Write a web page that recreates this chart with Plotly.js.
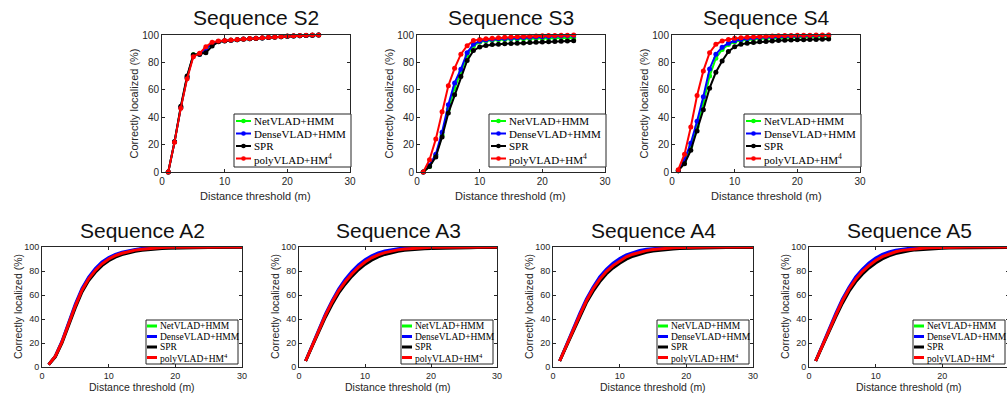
<!DOCTYPE html>
<html><head><meta charset="utf-8">
<script src="https://cdn.plot.ly/plotly-3.0.1.min.js"></script>
<style>html,body{margin:0;padding:0;overflow:hidden;background:#fff}#chart{width:1012px;height:396px}</style>
</head><body><div id="chart"></div>
<script>
// ---------------- data ----------------
const seriesNames = ['NetVLAD+HMM', 'DenseVLAD+HMM', 'SPR', 'polyVLAD+HM<sup>4</sup>'];
const seriesColors = ['#00ff00', '#0000ff', '#000000', '#ff0000'];
const panelTitles = ['Sequence S2', 'Sequence S3', 'Sequence S4', 'Sequence A2', 'Sequence A3', 'Sequence A4', 'Sequence A5'];
const xTicks = [0, 10, 20, 30];
const yTicks = [0, 20, 40, 60, 80, 100];
const xTitle = 'Distance threshold (m)';
const yTitle = 'Correctly localized (%)';

const xTop = [1,2,3,4,5,6,7,8,9,10,11,12,13,14,15,16,17,18,19,20,21,22,23,24,25];
const xBottom = [1,2,3,4,5,6,7,8,9,10,11,12,13,14,15,16,17,18,19,20,21,22,23,24,25,26,27,28,29,30];

// Sequence S2
const s2NetVLAD   = [0,22,47,69,85.5,86,90,93.5,95.3,95.8,96.2,96.6,97,97.3,97.6,97.9,98.2,98.5,98.8,99.1,99.3,99.5,99.7,99.9,100];
const s2DenseVLAD = [0,22,47,69,85,86,90,93.5,95.3,95.8,96.2,96.6,97,97.3,97.6,97.9,98.2,98.5,98.8,99.1,99.3,99.5,99.7,99.9,100];
const s2SPR       = [0,22,48,70,85.5,86,87,92,95,95.7,96.1,96.5,96.9,97.2,97.5,97.8,98.1,98.4,98.7,99,99.2,99.4,99.6,99.8,100];
const s2Poly      = [0,21.8,46.6,68,84.2,86.6,91.5,94.7,95.6,95.9,96.3,96.7,97.1,97.4,97.7,98,98.3,98.6,98.9,99.2,99.4,99.6,99.8,100,100];
// Sequence S3
const s3NetVLAD   = [0,4,12,27,46,61,73,85,92,94.8,95.8,96.3,96.6,96.8,97,97.1,97.2,97.3,97.4,97.5,97.6,97.7,97.8,97.9,98];
const s3DenseVLAD = [0,5,13,29,49,65,75,87,93.2,95.5,96.4,96.9,97.2,97.5,97.7,97.9,98.1,98.3,98.5,98.7,98.9,99.1,99.3,99.5,99.7];
const s3SPR       = [0,4,11,25.5,43,56.3,69.7,81.3,88.6,91.3,92.3,93,93.3,93.6,93.8,94,94.2,94.5,94.7,94.9,95.1,95.3,95.5,95.7,95.8];
const s3Poly      = [0,9,24,44,63,75.7,86,92.2,95.9,96.8,97.2,97.6,98,98.3,98.5,98.7,98.9,99.1,99.3,99.5,99.6,99.7,99.8,99.9,100];
// Sequence S4
const s4NetVLAD   = [1,8,19,33,50,70,83,89.5,93,95,96,96.6,97,97.3,97.5,97.7,97.9,98.1,98.3,98.5,98.6,98.7,98.8,98.9,99];
const s4DenseVLAD = [1,9,21,37,55,75.2,86,91,94,95.8,96.8,97.4,97.8,98.1,98.4,98.6,98.8,99,99.2,99.3,99.4,99.5,99.6,99.7,99.8];
const s4SPR       = [1,6,15.8,30,45.4,61.2,72.8,81,87.9,91.5,93.2,94,94.5,95,95.3,95.6,95.9,96.1,96.3,96.5,96.6,96.7,96.8,96.9,97];
const s4Poly      = [1.7,13,32.8,55.8,73.8,87.1,93.2,95.6,96.8,97.6,98,98.3,98.6,98.9,99.1,99.3,99.5,99.6,99.7,99.8,99.85,99.9,99.95,100,100];
// Sequence A2
const a2NetVLAD   = [2,9,21,36.3,51.5,64.5,74,81,86.5,90.5,93.2,95.1,96.6,97.6,98.4,98.9,99.3,99.5,99.7,99.8,99.9,100,100,100,100,100,100,100,100,100];
const a2DenseVLAD = [2,9,21.5,37,52.5,65.5,75,82,87.5,91.2,93.8,95.6,97,98,98.8,99.3,99.6,99.8,99.9,100,100,100,100,100,100,100,100,100,100,100];
const a2SPR       = [2,8.5,20,35,49.5,62.5,72,79,84.5,88.5,91.5,93.7,95.2,96.4,97.3,98,98.5,98.8,99,99.2,99.3,99.4,99.5,99.5,99.6,99.6,99.7,99.7,99.7,99.8];
const a2Poly      = [2,9,21,36,51,64,73.5,80.5,86,90,92.8,94.8,96.3,97.4,98.2,98.8,99.2,99.5,99.7,99.8,99.9,100,100,100,100,100,100,100,100,100];
// Sequence A3
const a3NetVLAD   = [5,18,31.2,43.3,54.3,64,71.8,78.3,83.8,88.2,91.6,94,95.8,97,97.9,98.6,99,99.3,99.6,99.7,99.8,99.9,100,100,100,100,100,100,100,100];
const a3DenseVLAD = [5,18.5,32,44,55,65,73,79.5,85,89.3,92.6,95,96.6,97.8,98.6,99.1,99.5,99.7,99.85,99.9,100,100,100,100,100,100,100,100,100,100];
const a3SPR       = [5,17.5,30,41.5,52,61.5,69,75.5,81,85.5,89,91.8,93.8,95.3,96.5,97.3,97.9,98.3,98.6,98.8,99,99.1,99.2,99.3,99.4,99.4,99.5,99.5,99.5,99.6];
const a3Poly      = [5,18,31,43,54,63.5,71,77.5,83,87.5,91,93.5,95.3,96.6,97.6,98.3,98.8,99.2,99.5,99.7,99.8,99.9,100,100,100,100,100,100,100,100];
// Sequence A4
const a4NetVLAD   = [5,18,31.2,43.3,55.3,65.5,73.6,80,85,89,92.2,94.4,96.1,97.3,98.1,98.7,99.1,99.4,99.6,99.7,99.8,99.9,100,100,100,100,100,100,100,100];
const a4DenseVLAD = [5,18.5,32,44.5,56.5,66.5,75,81.5,86.5,90.5,93.5,95.6,97.1,98.1,98.8,99.3,99.6,99.8,99.9,100,100,100,100,100,100,100,100,100,100,100];
const a4SPR       = [5,17.5,30,42,53.5,63,71,77.5,82.5,86.5,89.8,92.3,94.2,95.6,96.6,97.4,98,98.4,98.7,98.9,99.1,99.2,99.3,99.4,99.4,99.5,99.5,99.6,99.6,99.6];
const a4Poly      = [5,18,31,43,55,65,73,79.5,84.5,88.5,91.8,94,95.8,97,97.9,98.5,99,99.3,99.5,99.7,99.8,99.9,100,100,100,100,100,100,100,100];
// Sequence A5
const a5NetVLAD   = [5,18,30.7,43.3,55.3,65.5,73.6,80,85,89.2,92.4,94.6,96.2,97.4,98.2,98.7,99.1,99.4,99.6,99.7,99.8,99.9,100,100,100,100,100,100,100,100];
const a5DenseVLAD = [5,18.5,31.5,44.5,56.5,66.5,75,81.5,86.7,90.8,93.8,95.9,97.3,98.3,98.9,99.4,99.7,99.8,99.9,100,100,100,100,100,100,100,100,100,100,100];
const a5SPR       = [5,17.5,29.5,41.5,53,63,71,77.3,82.5,86.7,90,92.6,94.5,95.9,96.9,97.6,98.1,98.5,98.8,99,99.1,99.2,99.3,99.4,99.4,99.5,99.5,99.6,99.6,99.6];
const a5Poly      = [5,18,30.5,43,55,65,73,79.5,84.5,88.7,92,94.3,96,97.2,98,98.6,99,99.3,99.5,99.7,99.8,99.9,100,100,100,100,100,100,100,100];

// ---------------- layout geometry (pixels) ----------------
const W = 1012, H = 396;
const px = v => v / W, py = v => 1 - v / H;
const panels = [
  {x0:162, x1:350, y0:35,  y1:172, top:true,  xs:xTop,    ys:[s2NetVLAD, s2DenseVLAD, s2SPR, s2Poly]},
  {x0:417, x1:605, y0:35,  y1:172, top:true,  xs:xTop,    ys:[s3NetVLAD, s3DenseVLAD, s3SPR, s3Poly]},
  {x0:672, x1:860, y0:35,  y1:172, top:true,  xs:xTop,    ys:[s4NetVLAD, s4DenseVLAD, s4SPR, s4Poly]},
  {x0:42,  x1:242, y0:247, y1:367, top:false, xs:xBottom, ys:[a2NetVLAD, a2DenseVLAD, a2SPR, a2Poly]},
  {x0:299, x1:497, y0:247, y1:367, top:false, xs:xBottom, ys:[a3NetVLAD, a3DenseVLAD, a3SPR, a3Poly]},
  {x0:553, x1:753, y0:247, y1:367, top:false, xs:xBottom, ys:[a4NetVLAD, a4DenseVLAD, a4SPR, a4Poly]},
  {x0:809, x1:1009,y0:247, y1:367, top:false, xs:xBottom, ys:[a5NetVLAD, a5DenseVLAD, a5SPR, a5Poly]}
];

const sans = 'Liberation Sans, Arial, Helvetica, sans-serif';
const serif = 'Liberation Serif, Times New Roman, serif';
const axCol = '#262626';

const traces = [];
const layout = {
  width: W, height: H,
  margin: {l:0, r:0, t:0, b:0},
  paper_bgcolor: '#ffffff', plot_bgcolor: '#ffffff',
  showlegend: false, hovermode: false,
  annotations: [], shapes: []
};

panels.forEach((p, i) => {
  const suf = i === 0 ? '' : String(i + 1);
  const fs = p.top ? 10 : 9;
  layout['xaxis' + suf] = {
    domain: [px(p.x0), px(p.x1)], anchor: 'y' + suf, range: [0, 30],
    tickvals: xTicks, ticks: 'inside', ticklen: 3, tickcolor: axCol, tickwidth: 1,
    showline: true, linecolor: axCol, linewidth: 1, mirror: 'ticks',
    showgrid: false, zeroline: false, fixedrange: true,
    tickfont: {family: sans, size: fs, color: axCol}
  };
  layout['yaxis' + suf] = {
    domain: [py(p.y1), py(p.y0)], anchor: 'x' + suf, range: [0, 100],
    tickvals: yTicks, ticks: 'inside', ticklen: 3, tickcolor: axCol, tickwidth: 1,
    showline: true, linecolor: axCol, linewidth: 1, mirror: 'ticks',
    showgrid: false, zeroline: false, fixedrange: true,
    tickfont: {family: sans, size: fs, color: axCol}
  };
  p.ys.forEach((ys, k) => {
    traces.push({
      type: 'scatter', x: p.xs, y: ys, name: seriesNames[k],
      xaxis: 'x' + suf, yaxis: 'y' + suf,
      mode: p.top ? 'lines+markers' : 'lines',
      line: {color: seriesColors[k], width: p.top ? 2 : 3},
      marker: {color: seriesColors[k], size: 5},
      cliponaxis: false, showlegend: false
    });
  });

  const cx = (p.x0 + p.x1) / 2, cy = (p.y0 + p.y1) / 2;
  // panel title
  layout.annotations.push({
    text: panelTitles[i], xref: 'paper', yref: 'paper', showarrow: false,
    x: px(cx), y: py(p.top ? 18 : 230), xanchor: 'center', yanchor: 'middle',
    font: {family: sans, size: 21, color: '#111'}
  });
  // axis titles
  layout.annotations.push({
    text: xTitle, xref: 'paper', yref: 'paper', showarrow: false,
    x: px(cx), y: py(p.y1 + (p.top ? 24 : 20)), xanchor: 'center', yanchor: 'middle',
    font: {family: sans, size: p.top ? 11 : 10.5, color: axCol}
  });
  layout.annotations.push({
    text: yTitle, xref: 'paper', yref: 'paper', showarrow: false, textangle: -90,
    x: px(p.x0 - (p.top ? 29 : 24)), y: py(cy), xanchor: 'center', yanchor: 'middle',
    font: {family: sans, size: p.top ? 11 : 10.5, color: axCol}
  });

  // legend box (MATLAB-style, drawn inside the axes)
  const R = p.x1, B = p.y1;
  const g = p.top
    ? {bl: R-116, br: R+1, bt: B-58, bb: B-5, rows: [B-51, B-38.5, B-26, B-13.5], s0: R-114, s1: R-99, t: R-98, fs: 11, lw: 2}
    : {bl: R-96, br: R-4, bt: B-47, bb: B-3, rows: [B-41, B-30.5, B-20, B-9.5], s0: R-95, s1: R-85, t: R-84, fs: 9.5, lw: 3};
  layout.shapes.push({type: 'rect', xref: 'paper', yref: 'paper', layer: 'above',
    x0: px(g.bl), x1: px(g.br), y0: py(g.bb), y1: py(g.bt),
    line: {color: axCol, width: 1}, fillcolor: '#ffffff'});
  seriesNames.forEach((nm, k) => {
    const ry = g.rows[k];
    layout.shapes.push({type: 'line', xref: 'paper', yref: 'paper', layer: 'above',
      x0: px(g.s0), x1: px(g.s1), y0: py(ry), y1: py(ry),
      line: {color: seriesColors[k], width: g.lw}});
    if (p.top) {
      const mx = (g.s0 + g.s1) / 2;
      layout.shapes.push({type: 'circle', xref: 'paper', yref: 'paper', layer: 'above',
        x0: px(mx - 2.3), x1: px(mx + 2.3), y0: py(ry + 2.3), y1: py(ry - 2.3),
        line: {color: seriesColors[k], width: 0}, fillcolor: seriesColors[k]});
    }
    layout.annotations.push({
      text: nm, xref: 'paper', yref: 'paper', showarrow: false,
      x: px(g.t), y: py(ry), xanchor: 'left', yanchor: 'middle',
      font: {family: serif, size: g.fs, color: '#000'}
    });
  });
});

Plotly.newPlot('chart', traces, layout, {staticPlot: true, displayModeBar: false});
</script>
</body></html>
